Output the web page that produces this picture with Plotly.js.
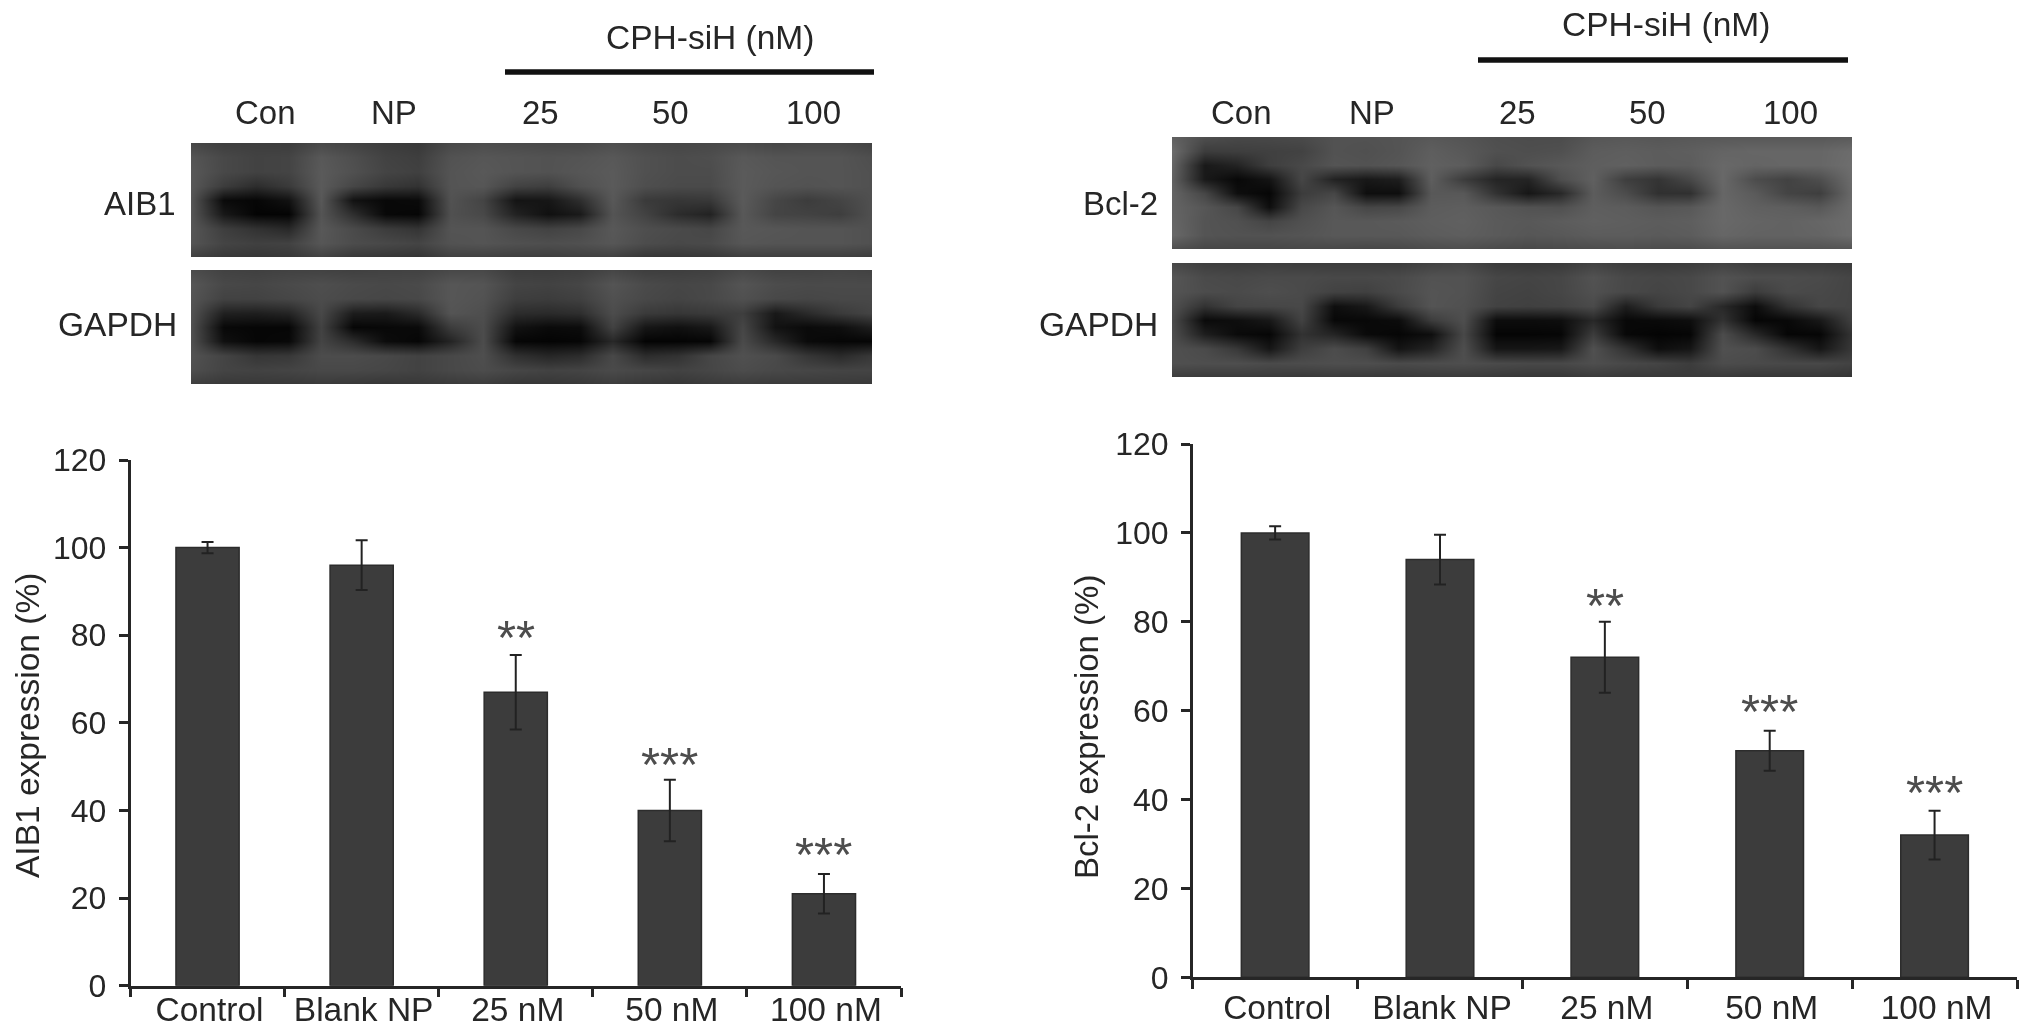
<!DOCTYPE html>
<html>
<head>
<meta charset="utf-8">
<script src="https://cdn.plot.ly/plotly-3.0.1.min.js"></script>
<style>html,body{margin:0;padding:0;background:#fff;overflow:hidden}#chart{width:2032px;height:1036px;filter:blur(0.6px)}</style>
</head>
<body>
<div id="chart"></div>
<script>
// ---------- data ----------
const categories = ['Control', 'Blank NP', '25 nM', '50 nM', '100 nM'];
const aib1Values = [100, 96, 67, 40, 21];
const aib1Errors = [1.3, 5.7, 8.5, 7, 4.5];
const aib1Stars = ['', '', '**', '***', '***'];
const aib1StarY = [null, null, 80.7, 51.8, 31.2];
const bcl2Values = [100, 94, 72, 51, 32];
const bcl2Errors = [1.5, 5.6, 8, 4.5, 5.5];
const bcl2Stars = ['', '', '**', '***', '***'];
const bcl2StarY = [null, null, 84.9, 61, 42.9];
const yTicks = [0, 20, 40, 60, 80, 100, 120];
const laneLabels = ['Con', 'NP', '25', '50', '100'];

// grey levels (0-255) of the blots
const blotAIB1 = [
[70,62,62,60,72,66,60,56,72,76,74,72,72,78,72,70,72,74,70,72,72,66],
[85,72,66,68,88,78,66,62,82,86,84,82,84,88,80,76,78,88,84,84,84,78],
[88,72,66,68,90,80,68,64,84,88,84,82,86,90,80,76,76,90,86,84,84,80],
[88,60,44,58,90,70,56,50,84,86,66,62,80,90,78,74,74,90,84,82,84,80],
[86,10,6,18,88,18,8,10,82,68,20,22,46,88,58,54,56,90,70,60,68,80],
[86,24,4,4,84,46,8,6,80,72,34,16,26,84,66,44,34,88,68,66,62,80],
[86,62,50,40,88,74,60,52,84,84,72,66,72,88,78,74,70,88,86,84,84,80],
[84,68,64,66,86,76,72,68,82,84,80,78,80,86,76,72,74,86,84,84,84,80],
[64,56,54,56,66,56,54,52,64,64,62,62,64,64,54,54,56,62,62,62,62,60]];
const blotGAPDH1 = [
[76,66,64,66,66,64,66,66,72,72,60,60,62,70,62,62,64,72,66,66,68,66],
[86,72,70,74,78,74,72,74,86,84,68,66,70,84,74,70,72,84,76,74,74,74],
[84,66,66,70,76,72,70,72,86,82,62,60,64,80,72,68,72,80,72,70,72,72],
[82,32,30,36,72,28,26,42,84,78,44,42,46,76,58,54,58,62,24,42,58,68],
[80,8,6,6,66,6,8,10,60,76,18,10,12,66,22,16,24,70,18,10,14,30],
[80,16,6,8,68,44,12,6,36,76,6,4,6,40,4,4,6,74,40,10,6,6],
[82,68,54,56,76,76,72,66,72,78,48,38,44,72,44,50,70,80,74,54,42,56],
[78,68,66,68,72,72,70,66,72,76,70,66,68,74,70,66,70,76,72,70,68,68],
[62,56,56,56,58,56,54,56,58,60,54,54,56,60,56,54,58,60,58,58,58,56]];
const blotBcl2 = [
[96,78,72,72,74,82,82,84,88,84,78,76,76,86,88,86,88,88,88,88,88,90],
[108,60,62,64,66,82,80,84,94,88,80,78,80,92,94,92,94,100,102,102,102,108],
[102,25,35,62,72,84,82,86,96,92,72,82,88,94,96,92,92,104,100,102,102,110],
[98,25,8,20,70,34,24,30,94,60,36,36,78,96,62,52,72,104,76,66,78,108],
[100,70,14,6,60,70,14,14,88,88,50,22,40,92,76,48,48,102,90,68,62,106],
[100,86,70,14,72,86,70,72,92,94,88,82,80,94,92,85,88,104,96,94,88,108],
[102,84,80,68,80,88,88,90,94,96,90,88,92,96,94,92,94,104,100,98,102,108],
[104,84,82,82,84,88,88,88,92,94,90,86,88,92,92,90,92,102,98,98,100,108],
[78,70,70,70,72,72,70,72,76,78,74,72,74,76,78,76,76,82,82,82,82,84]];
const blotGAPDH2 = [
[72,62,60,62,60,60,60,60,66,70,58,56,58,66,60,58,60,66,60,60,60,58],
[86,74,72,74,74,72,72,74,82,82,70,68,70,82,72,70,72,82,76,76,74,68],
[84,76,74,78,74,66,64,74,84,82,68,66,70,80,72,68,72,82,60,74,72,68],
[80,50,68,70,72,14,24,60,84,80,66,64,66,74,30,58,68,40,12,50,70,68],
[76,10,14,24,66,8,8,12,60,78,12,12,14,40,8,10,14,50,6,8,24,64],
[78,30,10,6,50,36,10,6,14,72,5,5,6,60,8,4,6,76,40,6,6,52],
[80,74,56,22,62,76,64,20,36,78,22,22,24,80,50,14,22,80,76,50,22,56],
[80,78,78,74,76,78,78,74,76,78,74,72,72,78,72,68,60,76,74,72,72,66],
[60,58,58,58,56,58,56,56,58,58,56,54,54,58,56,56,58,56,54,54,54,52]];

// ---------- helpers ----------
const W = 2032, H = 1036;
const FONT = 'Liberation Sans, Arial, sans-serif';
const INK = '#262626';
const px = x => x / W;
const py = y => 1 - y / H;

function barTrace(values, errors, xa, ya) {
  return {
    type: 'bar', x: categories, y: values, xaxis: xa, yaxis: ya, width: 0.41,
    marker: {color: '#3c3c3c', line: {color: '#2c2c2c', width: 1.5}},
    error_y: {type: 'data', array: errors, visible: true, color: '#222', thickness: 2, width: 6},
    hoverinfo: 'skip', showlegend: false
  };
}
function blotTrace(z, xa, ya) {
  return {
    type: 'heatmap', z: z, xaxis: xa, yaxis: ya, zmin: 0, zmax: 255, zsmooth: 'best',
    colorscale: [[0, '#000000'], [1, '#ffffff']], showscale: false, hoverinfo: 'skip'
  };
}
function catAxis(x0, x1, anchor, standoff) {
  return {
    domain: [px(x0), px(x1)], anchor: anchor, type: 'category', range: [-0.5, 4.5], tickson: 'boundaries',
    ticks: 'outside', ticklen: 9, tickwidth: 2.5, tickcolor: INK, showline: true, linewidth: 2.5, linecolor: INK,
    showgrid: false, zeroline: false, tickfont: {family: FONT, size: 33.5, color: INK}, ticklabelstandoff: standoff,
    ticklabelshift: 2, fixedrange: true
  };
}
function valAxis(y0, y1, anchor) {
  return {
    domain: [py(y0), py(y1)], anchor: anchor, range: [0, 120], tickmode: 'array', tickvals: yTicks,
    ticks: 'outside', ticklen: 9, tickwidth: 2.5, tickcolor: INK, showline: true, linewidth: 2.5, linecolor: INK,
    showgrid: false, zeroline: false, tickfont: {family: FONT, size: 32, color: INK}, ticklabelstandoff: 6, fixedrange: true
  };
}
function hiddenX(x0, x1, anchor) { return {domain: [px(x0), px(x1)], anchor: anchor, range: [0, 21], visible: false}; }
function hiddenY(y0, y1, anchor) { return {domain: [py(y1), py(y0)], anchor: anchor, range: [8, 0], visible: false}; }
function label(text, x, y, size, xanchor, angle) {
  return {text: text, xref: 'paper', yref: 'paper', x: px(x), y: py(y), showarrow: false, xanchor: xanchor || 'center',
    yanchor: 'middle', textangle: angle || 0, font: {family: FONT, size: size, color: INK}};
}
function starNotes(stars, ys, xa, ya) {
  return stars.map((s, i) => ({text: s, x: categories[i], y: ys[i], xref: xa, yref: ya, showarrow: false, yanchor: 'middle',
    yshift: -5, font: {family: FONT, size: 49, color: '#4d4d4d'}})).filter(a => a.text);
}

const laneX1 = [265, 394, 540, 670, 813];
const laneX2 = [1241, 1372, 1517, 1647, 1790];
const annotations = [
  label('AIB1 expression (%)', 27, 726, 33.5, 'center', -90),
  label('Bcl-2 expression (%)', 1086, 727, 33, 'center', -90),
  label('CPH-siH (nM)', 710, 37.5, 33.5),
  label('CPH-siH (nM)', 1666, 24.5, 33.5),
  label('AIB1', 178, 203, 33, 'right'),
  label('GAPDH', 179, 324, 33.5, 'right'),
  label('Bcl-2', 1160, 203, 33, 'right'),
  label('GAPDH', 1160, 324, 33.5, 'right')
].concat(laneLabels.map((t, i) => label(t, laneX1[i], 113, 33)))
 .concat(laneLabels.map((t, i) => label(t, laneX2[i], 113, 33)))
 .concat(starNotes(aib1Stars, aib1StarY, 'x', 'y'))
 .concat(starNotes(bcl2Stars, bcl2StarY, 'x2', 'y2'));

const data = [
  blotTrace(blotAIB1, 'x3', 'y3'),
  blotTrace(blotGAPDH1, 'x4', 'y4'),
  blotTrace(blotBcl2, 'x5', 'y5'),
  blotTrace(blotGAPDH2, 'x6', 'y6'),
  barTrace(aib1Values, aib1Errors, 'x', 'y'),
  barTrace(bcl2Values, bcl2Errors, 'x2', 'y2')
];

const layout = {
  width: W, height: H, margin: {l: 0, r: 0, t: 0, b: 0}, paper_bgcolor: '#fff', plot_bgcolor: 'rgba(0,0,0,0)',
  showlegend: false, annotations: annotations,
  xaxis: catAxis(130.5, 901, 'y', -8),
  yaxis: valAxis(985.7, 460, 'x'),
  xaxis2: catAxis(1192.7, 2017, 'y2', -1),
  yaxis2: valAxis(977.3, 444, 'x2'),
  xaxis3: hiddenX(191, 872, 'y3'), yaxis3: hiddenY(143, 257, 'x3'),
  xaxis4: hiddenX(191, 872, 'y4'), yaxis4: hiddenY(270, 384, 'x4'),
  xaxis5: hiddenX(1172, 1852, 'y5'), yaxis5: hiddenY(137, 249, 'x5'),
  xaxis6: hiddenX(1172, 1852, 'y6'), yaxis6: hiddenY(263, 377, 'x6'),
  shapes: [
    {type: 'line', xref: 'paper', yref: 'paper', x0: px(505), x1: px(874), y0: py(72), y1: py(72), line: {color: '#111', width: 5.5}},
    {type: 'line', xref: 'paper', yref: 'paper', x0: px(1478), x1: px(1848), y0: py(60), y1: py(60), line: {color: '#111', width: 5.5}}
  ]
};
Plotly.newPlot('chart', data, layout, {displayModeBar: false, responsive: false});
</script>
</body>
</html>
